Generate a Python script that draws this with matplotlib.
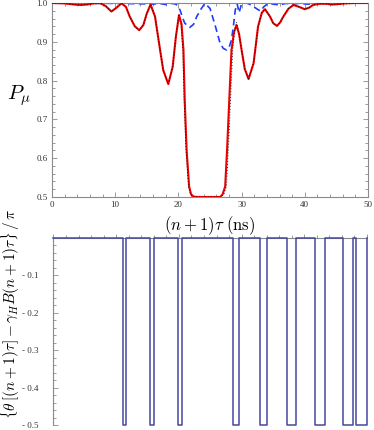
import matplotlib
matplotlib.use("Agg")
import matplotlib.pyplot as plt
from matplotlib.ticker import MultipleLocator, FixedLocator, FixedFormatter

plt.rcParams['mathtext.fontset'] = 'cm'
plt.rcParams['font.family'] = ['Liberation Serif', 'DejaVu Serif']

# ---- top panel data ----
red_x = [0, 2, 3.5, 4.5, 5.5, 6.6, 7.6, 8.5, 9.4, 10.2, 11.0, 11.7, 12.3, 13.1, 13.8,
         14.45, 15.0, 15.6, 16.3, 17.1, 17.6, 18.4, 19.1, 19.6, 20.1, 20.5, 20.8,
         21.0, 21.3, 21.7, 22.0, 22.4, 23.0, 26.0, 26.6, 27.0, 27.4, 27.7, 28.05,
         28.4, 28.8, 29.2, 29.6, 30.0, 30.5, 31.1, 31.9, 32.6, 33.2, 33.7, 34.5,
         35.0, 35.6, 36.1, 36.6, 37.4, 38.2, 39.1, 40.0, 40.7, 41.3, 42.4, 43.4,
         44.3, 45.2, 46.5, 48, 50]
red_y = [1.0, 0.999, 0.996, 0.995, 0.996, 0.999, 1.0, 0.992, 0.978, 0.988, 0.999, 0.99,
         0.965, 0.94, 0.930, 0.943, 0.973, 0.996, 0.965, 0.879, 0.827, 0.791, 0.836,
         0.913, 0.969, 0.945, 0.879, 0.75, 0.621, 0.527, 0.507, 0.501, 0.5, 0.5, 0.5,
         0.507, 0.527, 0.621, 0.75, 0.879, 0.925, 0.943, 0.92, 0.879, 0.83, 0.804,
         0.845, 0.939, 0.975, 0.984, 0.965, 0.948, 0.941, 0.95, 0.965, 0.985, 0.995,
         0.99, 0.984, 0.988, 0.995, 0.998, 0.998, 0.996, 0.997, 0.999, 1.0, 1.0]

blk_x = [0, 2, 3.5, 4.5, 5.5, 6.6, 7.6, 8.5, 9.4, 10.2, 11.0, 11.7, 12.3, 13.1, 13.8,
         14.45, 15.0, 15.6, 16.3, 17.1, 17.6, 18.4, 19.1, 19.6, 20.05, 20.4, 20.7,
         20.9, 21.2, 21.6, 21.9, 22.3, 23.0, 26.0, 26.7, 27.2, 27.6, 27.9, 28.25,
         28.6, 28.9, 29.2, 29.6, 30.0, 30.5, 31.1, 31.9, 32.6, 33.2, 33.7, 34.5,
         35.0, 35.6, 36.1, 36.6, 37.4, 38.2, 39.1, 40.0, 40.7, 41.3, 42.4, 43.4,
         44.3, 45.2, 46.5, 48, 50]
blk_y = [1.0, 0.999, 0.996, 0.995, 0.996, 0.999, 1.0, 0.992, 0.978, 0.988, 0.999, 0.99,
         0.965, 0.94, 0.930, 0.943, 0.973, 0.996, 0.965, 0.879, 0.827, 0.791, 0.836,
         0.913, 0.969, 0.945, 0.879, 0.75, 0.621, 0.527, 0.507, 0.501, 0.5, 0.5, 0.5,
         0.507, 0.527, 0.621, 0.75, 0.879, 0.93, 0.95, 0.92, 0.879, 0.83, 0.804,
         0.845, 0.939, 0.975, 0.984, 0.965, 0.948, 0.941, 0.95, 0.965, 0.985, 0.995,
         0.99, 0.984, 0.988, 0.995, 0.998, 0.998, 0.996, 0.997, 0.999, 1.0, 1.0]

blue_x = [0, 5, 10, 14, 16, 17, 18, 19, 19.6, 20.0, 20.25, 20.6, 21.0, 21.8, 22.4,
          22.9, 23.6, 24.2, 25.0, 25.8, 26.6, 27.1, 27.6, 28.0, 28.4, 28.7, 29.0,
          29.3, 29.6, 30.0, 30.8, 31.5, 32.4, 33.0, 33.5, 34.2, 35, 36, 37, 38, 39,
          40.5, 42, 50]
blue_y = [1.0, 0.999, 0.999, 0.998, 0.997, 0.999, 0.996, 0.999, 0.997, 0.99, 0.982,
          0.965, 0.948, 0.937, 0.945, 0.965, 0.985, 0.999, 0.986, 0.943, 0.896, 0.883,
          0.879, 0.885, 0.905, 0.94, 0.982, 0.998, 0.975, 0.998, 1.0, 0.995, 0.985,
          0.979, 0.99, 0.999, 0.997, 0.995, 0.999, 0.997, 0.999, 0.997, 1.0, 1.0]

# ---- bottom panel data: intervals where value = -0.5 ----
drop_start = [11.1, 15.4, 19.9, 28.55, 32.95, 37.3, 41.7, 46.1, 48.2]
drop_end = [11.6, 16.1, 20.5, 29.6, 34.1, 38.7, 43.3, 47.7, 49.95]
low_value = -0.5
x_end = 50.0

top_yticks = [0.5, 0.6, 0.7, 0.8, 0.9, 1.0]
top_xticks = [0, 10, 20, 30, 40, 50]
bot_yticks = [-0.1, -0.2, -0.3, -0.4, -0.5]
bot_ylabels = ['- 0.1', '- 0.2', '- 0.3', '- 0.4', '- 0.5']

W, H = 374, 430
fig = plt.figure(figsize=(W / 100, H / 100), dpi=100)
gray = '#8a8a8a'
tcol = '#333333'

ax1 = fig.add_axes([52 / W, 1 - 197 / H, (368 - 52) / W, (197 - 3) / H])
ax1.plot(red_x, red_y, color='#ee0000', lw=1.5, solid_capstyle='round', zorder=3)
ax1.plot(blk_x, blk_y, color='black', lw=0.6, ls=(0, (1, 2.5)), zorder=4)
ax1.plot(blue_x, blue_y, color='#1f3cff', lw=1.2, ls=(0, (4, 2.5)), zorder=2)
ax1.set_xlim(0, 50)
ax1.set_ylim(0.5, 1.0)
ax1.xaxis.set_major_locator(FixedLocator(top_xticks))
ax1.yaxis.set_major_locator(FixedLocator(top_yticks))
ax1.xaxis.set_minor_locator(MultipleLocator(2))
ax1.yaxis.set_minor_locator(MultipleLocator(0.02))
ax1.yaxis.set_major_formatter(FixedFormatter(['0.5', '0.6', '0.7', '0.8', '0.9', '1.0']))
ax1.tick_params(which='both', direction='in', top=True, right=True, color=gray,
                labelsize=6.5, labelcolor=tcol, width=0.6)
ax1.tick_params(which='major', length=3.5, pad=3)
ax1.tick_params(which='minor', length=2)
for s in ax1.spines.values():
    s.set_color(gray)
    s.set_linewidth(0.8)
fig.text(19 / W, 1 - 96 / H, r'$P_\mu$', fontsize=15, ha='center', va='center')
fig.text(210 / W, 1 - 226 / H, r'$(n+1)\tau\ (\mathrm{ns})$', fontsize=12,
         ha='center', va='center')

ax2 = fig.add_axes([53.5 / W, 1 - 425 / H, (367 - 53.5) / W, (425 - 238) / H])
sx = [0.0]
sy = [0.0]
for a, b in zip(drop_start, drop_end):
    sx += [a, a, b, b]
    sy += [0.0, low_value, low_value, 0.0]
sx.append(x_end)
sy.append(0.0)
ax2.plot(sx, sy, color='#4646a0', lw=1.1, zorder=3, clip_on=False)
ax2.set_xlim(0, 50)
ax2.set_ylim(-0.5, 0.0)
for k in ['right', 'bottom']:
    ax2.spines[k].set_visible(False)
for k in ['left', 'top']:
    ax2.spines[k].set_color(gray)
    ax2.spines[k].set_linewidth(0.8)
ax2.xaxis.tick_top()
ax2.xaxis.set_major_locator(MultipleLocator(10))
ax2.xaxis.set_minor_locator(MultipleLocator(2))
ax2.tick_params(axis='x', which='both', direction='out', labeltop=False, color=gray,
                width=0.6)
ax2.tick_params(axis='x', which='major', length=3)
ax2.tick_params(axis='x', which='minor', length=2)
ax2.yaxis.set_major_locator(FixedLocator(bot_yticks))
ax2.yaxis.set_major_formatter(FixedFormatter(bot_ylabels))
ax2.yaxis.set_minor_locator(MultipleLocator(0.02))
ax2.tick_params(axis='y', which='both', direction='in', color=gray, width=0.6,
                labelsize=6.5, labelcolor=tcol)
ax2.tick_params(axis='y', which='major', length=3.5, pad=11)
ax2.tick_params(axis='y', which='minor', length=2)
fig.text(10.5 / W, 1 - 314 / H, r'$\{\theta\,[(n+1)\tau] - \gamma_H B(n+1)\tau\}\,/\,\pi$',
         fontsize=11, rotation=90, ha='center', va='center')

fig.savefig('out.png', dpi=100)
